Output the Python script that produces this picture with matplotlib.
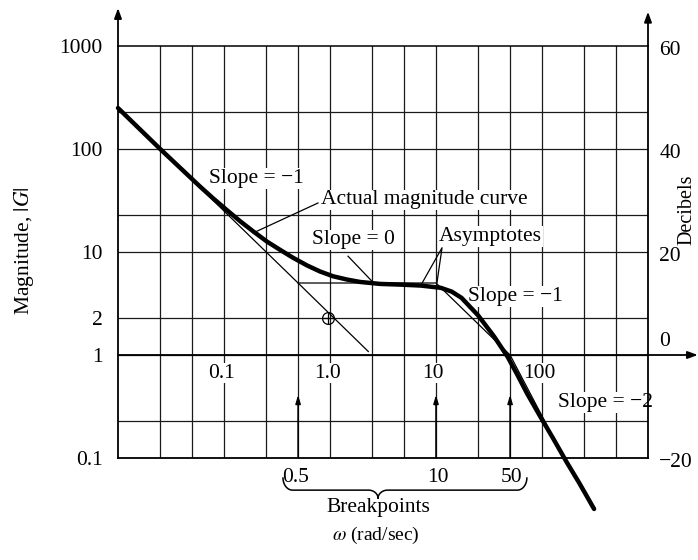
import numpy as np
import matplotlib
matplotlib.use("Agg")
import matplotlib.pyplot as plt

plt.rcParams["font.family"] = ["Liberation Serif", "DejaVu Serif"]
plt.rcParams["mathtext.fontset"] = "stix"

# actual magnitude curve (omega in rad/sec, |G|)
OMEGA = [0.01, 0.025, 0.0594, 0.0787, 0.107, 0.142, 0.188, 0.255, 0.338, 0.448,
         0.607, 0.805, 1.07, 1.45, 1.92, 2.96, 4.7, 7.2, 11.1, 14.1,
         17.4, 25.0, 35.2, 47.4, 58.7, 72.6, 95.8, 126, 170, 225, 310]
MAG = [250, 100, 43.2, 33.3, 25.4, 19.9, 15.9, 12.6, 10.5, 8.79,
       7.41, 6.47, 5.81, 5.40, 5.12, 4.9, 4.82, 4.72, 4.49, 4.12,
       3.59, 2.42, 1.52, 0.96, 0.64, 0.42, 0.255, 0.158, 0.092, 0.057, 0.032]

# straight-line asymptotes
ASYM_W = [0.01, 0.5, 10, 50, 170]
ASYM_M = [250, 5.0, 5.0, 1.0, 0.09]
EXT_W = [0.5, 2.3]          # low-frequency asymptote continued
EXT_M = [5.0, 1.08]
POINT_W, POINT_M = 0.95, 2.3

BREAKS = [0.5, 10, 50]
BREAK_LABELS = ["0.5", "10", "50"]
BRACE = [0.36, 2.84, 72]     # left end, tip, right end

X_LABEL_W = [0.1, 1, 10, 100]
X_LABELS = ["0.1", "1.0", "10", "100"]
Y_TICKS = [0.1, 1, 2.3, 10, 100, 1000]
Y_LABELS = ["0.1", "1", "2", "10", "100", "1000"]
DB_MAG = [1000, 100, 10, 1, 0.1]
DB_LABELS = ["60", "40", "20", "0", "\u221220"]

X_GRID = [0.025, 0.05, 0.1, 0.25, 0.5, 1, 2.5, 5, 10, 25, 50, 100, 250, 500]
Y_GRID = [0.23, 1, 2.3, 10, 23, 100, 230]

FS = 15.5
WHITE = dict(facecolor="white", edgecolor="none", pad=0.6)


def draw_brace(ax, left, mid, right, y, h, h2, d):
    lx0, lxm, lx1 = np.log10([left, mid, right])
    t = np.linspace(0, np.pi / 2, 15)
    xs = np.concatenate([
        lx0 + d * (1 - np.cos(t)),
        lxm - d + d * np.sin(t),
        lxm + d - d * np.sin(t[::-1]),
        lx1 - d * (1 - np.cos(t[::-1])),
    ])
    ys = np.concatenate([
        y + h * (1 - np.sin(t)),
        y - h2 * (1 - np.cos(t)),
        y - h2 * (1 - np.cos(t[::-1])),
        y + h * (1 - np.sin(t[::-1])),
    ])
    ax.plot(10 ** xs, ys, color="black", lw=1.1, transform=ax.get_xaxis_transform(),
            clip_on=False, solid_capstyle="round")


def main():
    fig = plt.figure(figsize=(6.98, 5.6), dpi=100)
    ax = fig.add_axes([118 / 698, 102 / 560, 530 / 698, 412 / 560])
    ax.set_xscale("log")
    ax.set_yscale("log")
    ax.set_xlim(0.01, 1000)
    ax.set_ylim(0.1, 1000)

    for s in ax.spines.values():
        s.set_linewidth(1.3)
    ax.spines["top"].set_linewidth(1.1)

    for w in X_GRID:
        ax.axvline(w, color="#1a1a1a", lw=0.9, zorder=1)
    for m in Y_GRID:
        ax.axhline(m, color="#1a1a1a", lw=0.9, zorder=1)

    ax.set_xticks([])
    ax.set_xticks([], minor=True)
    ax.set_yticks(Y_TICKS)
    ax.set_yticklabels(Y_LABELS, fontsize=FS)
    ax.set_yticks([], minor=True)
    ax.tick_params(axis="y", length=0, pad=11)

    # axis arrows
    arr = dict(arrowstyle="-|>,head_length=0.6,head_width=0.22", color="black",
               lw=1.3, shrinkA=0, shrinkB=0)
    ax.annotate("", xy=(0, 1.092), xytext=(0, 1.0), xycoords="axes fraction",
                arrowprops=arr)
    ax.annotate("", xy=(1.0, 1.083), xytext=(1.0, 1.0), xycoords="axes fraction",
                arrowprops=arr)
    ax.annotate("", xy=(1.094, 1), xytext=(0, 1), xycoords=("axes fraction", "data"),
                arrowprops=arr)

    # curves
    ax.plot(OMEGA, MAG, color="black", lw=3.2, zorder=5, solid_capstyle="round",
            solid_joinstyle="round", clip_on=False)
    ax.plot(ASYM_W, ASYM_M, color="black", lw=0.9, zorder=4)
    ax.plot(EXT_W, EXT_M, color="black", lw=0.9, zorder=4)
    ax.plot([POINT_W], [POINT_M], marker="o", ms=8.5, mfc="none", mec="black",
            mew=0.9, zorder=4)
    ax.plot([POINT_W], [POINT_M], marker="+", ms=8.5, mec="black", mew=0.9, zorder=4)

    # breakpoint arrows
    bp_arr = dict(arrowstyle="-|>,head_length=0.5,head_width=0.15", color="black",
                  lw=1.1, shrinkA=0, shrinkB=0)
    for w in BREAKS:
        ax.annotate("", xy=(w, 0.41), xytext=(w, 0.1), arrowprops=bp_arr, zorder=3)

    # x labels inside the plot, under the 0 dB axis
    for w, lab in zip(X_LABEL_W, X_LABELS):
        ax.annotate(lab, xy=(w, 1), xytext=(-2, -13), textcoords="offset points",
                    ha="center", va="center", fontsize=FS, bbox=WHITE, zorder=2.5)

    # decibel scale on the right
    for m, lab in zip(DB_MAG, DB_LABELS):
        dy = 10 if lab == "0" else -3
        ax.annotate(lab, xy=(1.021, m), xycoords=("axes fraction", "data"),
                    xytext=(0, dy), textcoords="offset points",
                    ha="left", va="center", fontsize=FS, annotation_clip=False)

    # annotations
    ax.text(0.2, 52, "Slope = \u22121", fontsize=FS, ha="center", va="center",
            bbox=WHITE, zorder=2.5)
    ax.text(0.82, 32, "Actual magnitude curve", fontsize=FS, ha="left", va="center",
            bbox=WHITE, zorder=2.5)
    ax.plot([0.77, 0.196], [29.9, 15.6], color="black", lw=0.9, zorder=4)
    ax.text(1.65, 13.1, "Slope = 0", fontsize=FS, ha="center", va="center",
            bbox=WHITE, zorder=2.5)
    ax.plot([1.48, 2.49], [9.1, 5.2], color="black", lw=0.9, zorder=4)
    ax.text(10.7, 14.1, "Asymptotes", fontsize=FS, ha="left", va="center",
            bbox=WHITE, zorder=2.5)
    ax.plot([7.4, 11.4, 10.2], [5.0, 11.0, 5.0], color="black", lw=0.9, zorder=4)
    ax.text(55.5, 3.72, "Slope = \u22121", fontsize=FS, ha="center", va="center",
            bbox=WHITE, zorder=2.5)
    ax.text(398, 0.348, "Slope = \u22122", fontsize=FS, ha="center", va="center",
            bbox=WHITE, zorder=2.5)

    # breakpoints brace and labels
    xtr = ax.get_xaxis_transform()
    for w, lab in zip(BREAKS, BREAK_LABELS):
        ax.text(w * (0.95 if lab == "0.5" else 1.04), -0.047, lab, fontsize=FS,
                ha="center", va="center", transform=xtr)
    draw_brace(ax, BRACE[0], BRACE[1], BRACE[2], -0.078, 0.03, 0.02, 0.09)
    ax.text(BRACE[1], -0.121, "Breakpoints", fontsize=FS, ha="center", va="center",
            transform=xtr)
    ax.text(2.72, -0.187, r"$\omega$ (rad/sec)", fontsize=14, ha="center",
            va="center", transform=xtr)

    ax.text(-0.178, 0.502, r"Magnitude, $|G|$", fontsize=FS, rotation=90,
            ha="center", va="center", transform=ax.transAxes)
    ax.text(1.073, 0.602, "Decibels", fontsize=14.5, rotation=90,
            ha="center", va="center", transform=ax.transAxes)

    fig.savefig("out.png", dpi=100)
    plt.close(fig)


if __name__ == "__main__":
    main()
